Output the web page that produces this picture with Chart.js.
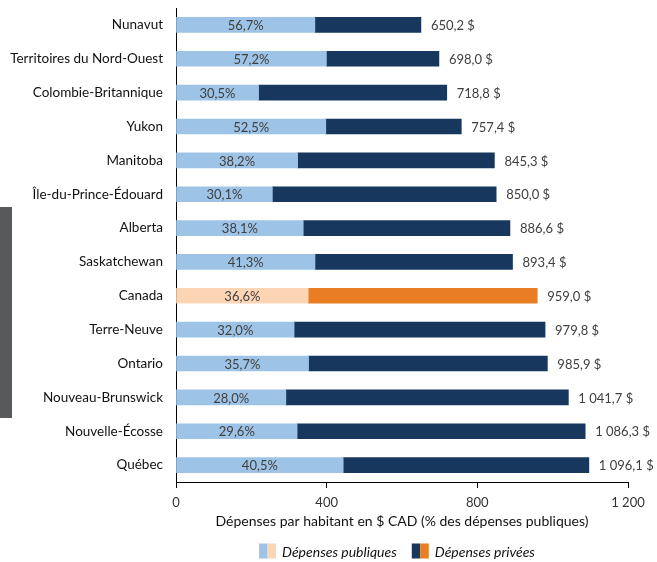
<!DOCTYPE html>
<html>
<head>
<meta charset="utf-8">
<script src="https://cdn.jsdelivr.net/npm/chart.js@4/dist/chart.umd.min.js"></script>
<style>
html,body{margin:0;padding:0;background:#fff;}
#wrap{width:657px;height:562px;position:relative;}
</style>
</head>
<body>
<div id="wrap"><canvas id="c" width="657" height="562"></canvas></div>
<script>
const categories = ["Nunavut","Territoires du Nord-Ouest","Colombie-Britannique","Yukon","Manitoba","Île-du-Prince-Édouard","Alberta","Saskatchewan","Canada","Terre-Neuve","Ontario","Nouveau-Brunswick","Nouvelle-Écosse","Québec"];
const totals = [650.2, 698.0, 718.8, 757.4, 845.3, 850.0, 886.6, 893.4, 959.0, 979.8, 985.9, 1041.7, 1086.3, 1096.1];
const publicPct = [56.7, 57.2, 30.5, 52.5, 38.2, 30.1, 38.1, 41.3, 36.6, 32.0, 35.7, 28.0, 29.6, 40.5];
const xTicks = [0, 400, 800, 1200];
const seriesNames = ["Dépenses publiques", "Dépenses privées"];
const highlight = "Canada";

const publicVals = totals.map((t, i) => t * publicPct[i] / 100);
const privateVals = totals.map((t, i) => t - publicVals[i]);

const C = {
  pubBlue: '#9dc3e6', privBlue: '#17375e',
  pubOrange: '#fcd5b5', privOrange: '#e87d23'
};
const FONT = 'Lato, "Liberation Sans", sans-serif';

function fmtNum(v, dec) {
  const s = v.toFixed(dec).split('.');
  const int = s[0].replace(/\B(?=(\d{3})+(?!\d))/g, ' ');
  return dec ? int + ',' + s[1] : int;
}

const legendSwatches = [[C.pubBlue, C.pubOrange], [C.privBlue, C.privOrange]];

const labelPlugin = {
  id: 'labels',
  beforeDraw(chart) {
    const ctx = chart.ctx;
    ctx.save();
    ctx.fillStyle = '#58595b';
    ctx.fillRect(0, 207, 12, 211);
    ctx.restore();
  },
  afterDatasetsDraw(chart) {
    const ctx = chart.ctx;
    const m0 = chart.getDatasetMeta(0);
    const m1 = chart.getDatasetMeta(1);
    ctx.save();
    ctx.font = '13px ' + FONT;
    ctx.fillStyle = '#404040';
    ctx.textBaseline = 'middle';
    m0.data.forEach((bar, i) => {
      const left = Math.min(bar.x, bar.base);
      const right = Math.max(bar.x, bar.base);
      ctx.textAlign = 'center';
      ctx.fillText(fmtNum(publicPct[i], 1) + '%', (left + right) / 2, bar.y + 1);
      const b1 = m1.data[i];
      ctx.textAlign = 'left';
      ctx.fillText(fmtNum(totals[i], 1) + ' $', b1.x + 10, bar.y + 1);
    });
    ctx.restore();
  },
  afterDraw(chart) {
    // custom legend with split swatches
    const ctx = chart.ctx;
    ctx.save();
    ctx.font = 'italic 14px ' + FONT;
    const swW = 17, swH = 15, gapText = 6, gapItem = 15;
    const widths = seriesNames.map(n => ctx.measureText(n).width);
    const total = widths.reduce((a, w) => a + swW + gapText + w, 0) + gapItem;
    const cx = 397;
    let x = cx - total / 2;
    const cy = 551;
    ctx.textBaseline = 'middle';
    ctx.textAlign = 'left';
    seriesNames.forEach((n, i) => {
      const [a, b] = legendSwatches[i];
      ctx.fillStyle = a; ctx.fillRect(x, cy - swH / 2, swW / 2, swH);
      ctx.fillStyle = b; ctx.fillRect(x + swW / 2, cy - swH / 2, swW / 2, swH);
      x += swW + gapText;
      ctx.fillStyle = '#111';
      ctx.fillText(n, x, cy + 1);
      x += widths[i] + gapItem;
    });
    ctx.restore();
  }
};

new Chart(document.getElementById('c'), {
  type: 'bar',
  data: {
    labels: categories,
    datasets: [
      {
        label: seriesNames[0],
        data: publicVals,
        backgroundColor: categories.map(c => c === highlight ? C.pubOrange : C.pubBlue),
        barThickness: 15
      },
      {
        label: seriesNames[1],
        data: privateVals,
        backgroundColor: categories.map(c => c === highlight ? C.privOrange : C.privBlue),
        barThickness: 15
      }
    ]
  },
  options: {
    indexAxis: 'y',
    responsive: false,
    animation: false,
    layout: { padding: { left: 0, right: 29, top: 8, bottom: 24 } },
    scales: {
      x: {
        stacked: true,
        min: 0, max: 1200,
        afterBuildTicks(scale) { scale.ticks = xTicks.map(v => ({ value: v })); },
        grid: { drawOnChartArea: false, drawTicks: true, tickLength: 6, color: '#000', lineWidth: 1 },
        border: { display: true, color: '#000', width: 1 },
        ticks: {
          font: { family: FONT, size: 13 }, color: '#333', padding: 7,
          maxRotation: 0,
          callback: v => fmtNum(v, 0)
        },
        title: {
          display: true,
          text: 'Dépenses par habitant en $ CAD (% des dépenses publiques)',
          font: { family: FONT, size: 14 }, color: '#111', padding: { top: 2, bottom: 8 }
        },
        afterFit(scale) { scale.height = 56; }
      },
      y: {
        stacked: true,
        grid: { display: false },
        border: { display: true, color: '#000', width: 1 },
        ticks: { font: { family: FONT, size: 13.5 }, color: '#111', padding: 5 },
        afterFit(scale) { scale.width = 176; scale.paddingTop = 0; scale.paddingBottom = 0; }
      }
    },
    plugins: {
      legend: { display: false },
      tooltip: { enabled: false }
    }
  },
  plugins: [labelPlugin]
});
</script>
</body>
</html>
